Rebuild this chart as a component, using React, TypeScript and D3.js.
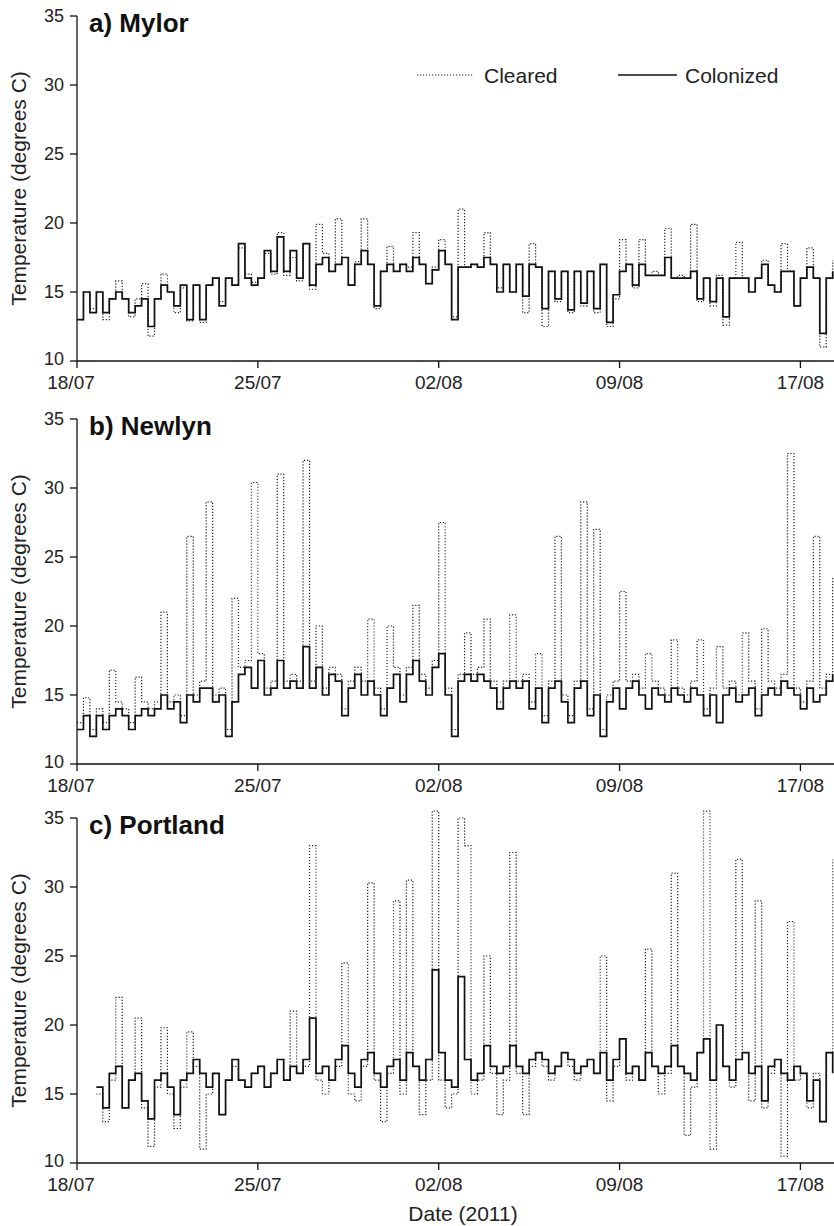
import React from "react";
import * as d3 from "d3";

// sampled every ~6 h, 18/07 to 20/08 2011
const sites = ["a) Mylor", "b) Newlyn", "c) Portland"];
const tickIdx = [0, 28, 56, 84, 112];
const tickLabels = ["18/07", "25/07", "02/08", "09/08", "17/08"];
const yTicks = [10, 15, 20, 25, 30, 35];

const mylorColonized = [13,15,13.5,15,13.5,14.5,15,14.5,13.5,14, 14.5,12.5,14.5,15.5,15,14,15.5,13,15.5,13, 15.5,16,14,16,15.5,18.5,16,15.5,16,18, 16.5,19,16.5,18,16,18.5,15.5,17,17.5,16.5, 17,17.5,15.5,17,18,17,14,16.5,17,16.5, 17,16.5,17.5,17,15.6,16.6,18,17,13,16.8, 16.8,17,16.8,17.5,17,15,17,15,17,14.7, 17,16.8,13.8,16.5,14.5,16.5,13.7,16.5,14.2,16.5, 13.8,17,12.8,14.8,16.5,17,15.5,17,16.2,16.2, 16.2,17.5,16,16,16,16.5,14.5,16,14.3,16, 13.2,16,16,16,15,16,17,15.5,15,16.5, 16.5,14,16,16.8,16,12,16,16.5];
const mylorCleared = [13,15,13.8,15,13,14.5,15.8,14.5,13.2,14.5, 15.6,11.8,14.5,16.3,15,13.5,15.3,12.9,15.5,12.8, 15.5,16,14.3,16,15.5,18.2,16.3,15.7,16,17.8, 16.3,19.3,16.2,17.5,15.8,18.5,15.2,19.9,17.8,16.5, 20.3,17.5,15.5,17.2,20.3,17,13.8,16.5,18.3,16.5, 17,16.8,19.3,17,15.6,16.8,18.8,17,13.2,21, 16.8,17,16.8,19.3,17,15.3,17,15,17,13.5, 18.5,16.8,12.5,16.5,14.3,16.5,13.5,16.5,14,16.5, 13.5,17,12.5,14.5,18.8,17,15.3,18.8,16.2,16.5, 16.2,19.6,16,16.2,16,19.9,14.3,16,14,16.2, 12.6,16,18.6,16,15,16,17.3,15.5,15,18.5, 16.5,14,16,18.2,16,11,16,17.3];

const newlynColonized = [12.5,13.5,12,13.5,12.5,13.5,14,13.5,12.5,13.5, 14,13.5,14,15,14,14.5,13,15,14.5,15.5, 15.5,14.5,15,12,14.5,16.5,17,15.5,17.5,15, 15.5,17.5,15.5,16,15.5,18.5,15.5,17,15,16.5, 16,13.5,15.5,16.5,15,16,15,13.5,15.5,16.5, 14.5,16.5,17.5,16,15,17,18,15,12,16, 16.5,16,16.5,16,15.5,14,15.5,16,15.5,16, 14,15.5,13,15.5,16,14.5,13,15.5,16,13.5, 15,12,14.5,15.5,14,15.5,16,15,14,15.5, 15,14.5,15.5,15,14.5,15.5,15,13.5,15,13, 15,15.5,14.5,15,15.5,13.5,15,15.5,15,16, 15.5,15,14,15.5,14.5,15,16,16.5];
const newlynCleared = [13,14.8,12.5,14,13,16.8,14.5,14,13,16.3, 14.5,14,14.5,21,14.5,15,13.5,26.5,15,16, 29,15,15.5,12.5,22,17,17.5,30.4,18,15.5, 16,31,16,16.5,16,32,16,20,15.5,17, 16.5,14,16,17,16,20.5,15.5,14,20,17, 15,17,21.5,16.5,15.5,17.5,27.5,15.5,12.5,16.5, 19.5,16.5,17,20.5,16,14.5,16,20.8,16,16.5, 14.5,18,13.5,16,26.5,15,13.5,16,29,14, 27,12.5,15,16,22.5,16,16.5,15.5,18,16, 15.5,15,19,15.5,15,16,19,14,15.5,18.5, 15.5,16,15,19.5,16,14,19.8,16,15.5,16.5, 32.5,15.5,14.5,16,26.5,15.5,16.5,23.5];

const portlandColonized = [null,null,null,15.5,14,16.5,17,14,16,16.5, 14.5,13.2,16,16.5,15.5,13.5,16,16.5,17.5,16.5, 15.5,16.5,13.5,16,17.5,16,15.5,16.5,17,15.5, 16.5,17.5,16,17,16.5,17.5,20.5,16.5,17,16, 17.5,18.5,16.5,15.5,17.5,18,16.5,15.5,17,17.5, 16,18,17,16,17.5,24,18,16,15.5,23.5, 17.5,16,16.5,18.5,17,16.5,17,18.5,17,16.5, 17.5,18,17.5,16.5,17,18,17.5,16.5,17,17.5, 16.5,18,16,17.5,19,16.5,17,16,18,17, 16.5,17,18.5,17,16.5,16,18,19,16,20, 17,16,17.5,18,16.5,17,14.5,17,17.5,16.5, 16,17,16.5,14.5,16,13,18,16.5];
const portlandCleared = [null,null,null,15,13,16,22,14,16,20.5, 14,11.2,15.5,19.8,15,12.5,15.5,19.5,17,11, 15,16.5,13.5,16,17,16,15.5,16.5,17,15.5, 16.5,17.5,16,21,16.5,17,33,16,15,16, 17,24.5,15,14.5,17,30.3,16,13,16.5,29, 15,30.5,17,13.5,16,35.5,16,14,15,35, 33,15,16,25,16.5,13.5,16,32.5,16.5,13.5, 17,18,17,16,17,18,17,16,17,17.5, 16.5,25,14.5,17,19,16,17,16,25.5,17, 15,16.5,31,17,12,15.5,18,35.5,11,20, 17,15.5,32,18,14.5,29,14,16.5,17.5,10.5, 27.5,16,16.5,14,16.5,13,18,32];

const colonized = [mylorColonized, newlynColonized, portlandColonized];
const cleared = [mylorCleared, newlynCleared, portlandCleared];

const panelTops = [16, 419, 818];
const panelH = 345;
const left = 77;
const right = 834;
const font = "'Liberation Sans', Arial, sans-serif";

function Panel({ k }: { k: number }) {
  const top = panelTops[k];
  const x = d3.scaleLinear().domain([0, 117.2]).range([left, right]);
  const y = d3.scaleLinear().domain([10, 35]).range([top + panelH, top]);
  const line = d3
    .line<number | null>()
    .defined((d) => d != null)
    .x((d, i) => x(i))
    .y((d) => y(d as number))
    .curve(d3.curveStepAfter);
  const base = y(10);

  return (
    <g>
      <path d={line(cleared[k]) || ""} fill="none" stroke="#222" strokeWidth={1.2} strokeDasharray="1.2,1.8" />
      <path d={line(colonized[k]) || ""} fill="none" stroke="#111" strokeWidth={1.7} />

      {/* y axis */}
      <line x1={left} x2={left} y1={y(35)} y2={base} stroke="#111" strokeWidth={1.3} />
      {yTicks.map((t) => (
        <g key={t}>
          <line x1={left - 7} x2={left} y1={y(t)} y2={y(t)} stroke="#111" strokeWidth={1.3} />
          <text x={left - 13} y={y(t) - (t === 10 ? 2 : 0)} dy="0.36em" textAnchor="end" fontSize={18} fill="#222">
            {t}
          </text>
        </g>
      ))}
      <text
        transform={`translate(26,${top + panelH / 2}) rotate(-90)`}
        textAnchor="middle"
        fontSize={21}
        fill="#222"
      >
        Temperature (degrees C)
      </text>

      {/* x axis */}
      <line x1={left} x2={right} y1={base} y2={base} stroke="#111" strokeWidth={1.3} />
      {tickIdx.map((t, i) => (
        <g key={t}>
          <line x1={x(t)} x2={x(t)} y1={base} y2={base + 7} stroke="#111" strokeWidth={1.3} />
          <text x={x(t) - (i === 0 ? 6 : 0)} y={base + 28} textAnchor="middle" fontSize={19} fill="#222">
            {tickLabels[i]}
          </text>
        </g>
      ))}

      <text x={89} y={top + 16} fontSize={26} fontWeight="bold" fill="#111">
        {sites[k]}
      </text>
    </g>
  );
}

export default function App() {
  return (
    <svg width={834} height={1226} style={{ position: "absolute", left: 0, top: 0 }} fontFamily={font}>
      <rect width={834} height={1226} fill="#fff" />
      {[0, 1, 2].map((k) => (
        <Panel key={k} k={k} />
      ))}
      {/* legend */}
      <line x1={417} x2={473} y1={75} y2={75} stroke="#222" strokeWidth={1.2} strokeDasharray="1.2,1.8" />
      <text x={484} y={83} fontSize={21} fill="#222">Cleared</text>
      <line x1={618} x2={677} y1={75} y2={75} stroke="#111" strokeWidth={1.7} />
      <text x={685} y={83} fontSize={21} fill="#222">Colonized</text>
      <text x={463} y={1221} textAnchor="middle" fontSize={21} fill="#222">
        Date (2011)
      </text>
    </svg>
  );
}
